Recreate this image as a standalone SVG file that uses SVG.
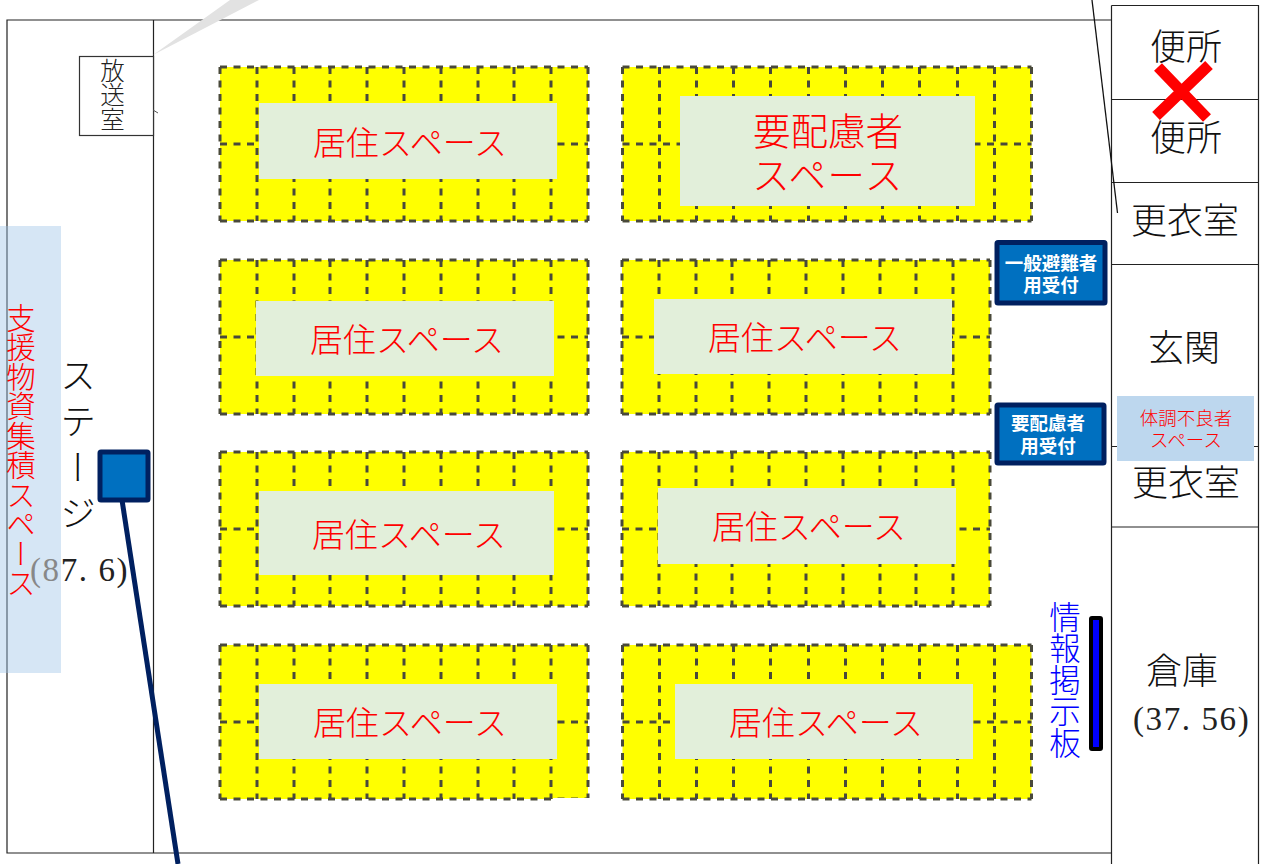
<svg xmlns="http://www.w3.org/2000/svg" width="1268" height="864" viewBox="0 0 1268 864">
<style>
text{font-family:"Noto Sans CJK JP","Liberation Sans",sans-serif}
.wall{fill:none;stroke:#222;stroke-width:1.2}
.gridf{fill:#ff0}
.grid{fill:none;stroke:#4a4a3a;stroke-width:3;stroke-dasharray:7 6.500}
.pale{fill:#e2efda}
.room{font-size:36px;fill:#111;text-anchor:middle;font-weight:300}
.sp{font-size:33px;fill:#f00;text-anchor:middle;font-weight:300}
.rec{fill:#0070c0;stroke:#002060;stroke-width:5}
.rect{font-size:18.500px;fill:#fff;text-anchor:middle;font-weight:700}
.v{writing-mode:vertical-rl;text-orientation:upright;font-weight:300}
.num{font-family:"Liberation Serif",serif;font-size:33px;fill:#222;letter-spacing:1.600px}
</style>
<defs>
<filter id="soft" x="-2%" y="-2%" width="104%" height="104%"><feGaussianBlur stdDeviation="0.600"/></filter>
<g id="g10">
<rect class="gridf" width="368" height="154"/>
<path class="grid" filter="url(#soft)" d="M0 0H368M0 77H368M0 154H368M0 0V154M37 0V154M74 0V154M110 0V154M147 0V154M184 0V154M221 0V154M258 0V154M294 0V154M331 0V154M368 0V154"/>
</g>
<g id="g11">
<rect class="gridf" width="409" height="154"/>
<path class="grid" filter="url(#soft)" d="M0 0H409M0 77H409M0 154H409M0 0V154M37 0V154M74 0V154M111 0V154M148 0V154M186 0V154M223 0V154M260 0V154M297 0V154M335 0V154M372 0V154M409 0V154"/>
</g>
</defs>
<rect width="1268" height="864" fill="#fff"/>
<g id="walls">
<path class="wall" d="M1111 20H7V853H1111M153.500 20V853"/>
<path class="wall" d="M1111.500 5.500H1258.500V864M1111.500 5.500V864M1111 99.500H1258M1111 182.500H1258M1111 264.500H1258M1111 446.500H1258M1111 527H1258"/>
</g>
<polygon id="callout-tail" points="153,55 259,0 230,0" fill="#e2e2e2"/>
<g id="blocks">
<use href="#g10" x="220" y="67"/>
<use href="#g11" x="622.500" y="67"/>
<use href="#g10" x="220" y="260"/>
<use href="#g10" x="622" y="260"/>
<use href="#g10" x="220" y="452"/>
<use href="#g10" x="622" y="452"/>
<use href="#g10" x="220" y="645"/>
<use href="#g11" x="622.500" y="645"/>
<rect x="553" y="798" width="37" height="4" fill="#fff"/>
</g>
<g id="space-1"><rect class="pale" x="259" y="103" width="298" height="76"/><text class="sp" x="410" y="155">居住スペース</text></g>
<g id="space-2"><rect class="pale" x="680" y="96" width="295" height="110"/><text class="sp" style="font-size:37.500px" y="145"><tspan x="828">要配慮者</tspan><tspan x="828" dy="44" letter-spacing="1.500">スペース</tspan></text></g>
<g id="space-3"><rect class="pale" x="256" y="301" width="298" height="75"/><text class="sp" x="407" y="352">居住スペース</text></g>
<g id="space-4"><rect class="pale" x="654" y="299" width="298" height="75"/><text class="sp" x="805" y="350">居住スペース</text></g>
<g id="space-5"><rect class="pale" x="259" y="491" width="295" height="84"/><text class="sp" x="409" y="547">居住スペース</text></g>
<g id="space-6"><rect class="pale" x="658" y="488" width="298" height="76"/><text class="sp" x="809" y="539">居住スペース</text></g>
<g id="space-7"><rect class="pale" x="259" y="684" width="298" height="75"/><text class="sp" x="410" y="735">居住スペース</text></g>
<g id="space-8"><rect class="pale" x="675" y="684" width="298" height="75"/><text class="sp" x="826" y="735">居住スペース</text></g>
<g id="support"><rect x="0" y="226" width="61" height="447" fill="#9dc3e6" fill-opacity="0.42"/><text class="v" x="21" y="303" style="font-size:29.500px" fill="#f00">支援物資集積スペース</text></g>
<g id="stage"><text class="v" x="78" y="357" style="font-size:36px;letter-spacing:10px" fill="#111">ステージ</text><text class="num" x="30" y="581"><tspan fill="#888">(8</tspan>7. 6)</text></g>
<g id="broadcast"><rect x="79.500" y="56.500" width="74" height="79" fill="#fff" stroke="#333" stroke-width="1.200"/><text class="v" x="112.500" y="58" style="font-size:24.500px" fill="#222">放送室</text></g>
<g id="connectors">
<path d="M1092 0L1117.500 213" fill="none" stroke="#111" stroke-width="1.300"/>
<path d="M153 110L158 113" fill="none" stroke="#555" stroke-width="1"/>
<path d="M122 500L178 864" fill="none" stroke="#002060" stroke-width="5"/>
</g>
<g id="stage-sign"><rect class="rec" x="100" y="452" width="48" height="48" rx="1"/></g>
<g id="toilet-1"><text class="room" x="1186" y="60">便所</text></g>
<g id="toilet-2"><text class="room" x="1186" y="151">便所</text></g>
<g id="cross"><path d="M1158 67L1207 118M1209 65L1156 116" fill="none" stroke="#f00" stroke-width="11"/></g>
<g id="changing-1"><text class="room" x="1185" y="234">更衣室</text></g>
<g id="entrance"><text class="room" x="1184" y="361">玄関</text></g>
<g id="changing-2"><text class="room" x="1186" y="496">更衣室</text></g>
<g id="unwell"><rect x="1117" y="396" width="137" height="65" fill="#bdd7ee"/><text x="1186" y="425" text-anchor="middle" fill="#f00" style="font-size:18.500px;font-weight:300"><tspan x="1186">体調不良者</tspan><tspan x="1186" dy="22">スペース</tspan></text></g>
<g id="storage"><text class="room" x="1182" y="684">倉庫</text><text class="num" x="1133" y="730">(37. 56)</text></g>
<g id="reception-1"><rect class="rec" x="997" y="242.500" width="108" height="60.500" rx="1"/><text class="rect" y="270"><tspan x="1051">一般避難者</tspan><tspan x="1051" dy="22">用受付</tspan></text></g>
<g id="reception-2"><rect class="rec" x="997" y="405" width="107" height="58" rx="1"/><text class="rect" y="430"><tspan x="1048">要配慮者</tspan><tspan x="1048" dy="23">用受付</tspan></text></g>
<g id="board"><rect x="1091" y="618" width="10" height="131" fill="#00f" stroke="#000" stroke-width="4" rx="1"/><text class="v" x="1065" y="601" style="font-size:31.500px" fill="#00f">情報掲示板</text></g>
</svg>
